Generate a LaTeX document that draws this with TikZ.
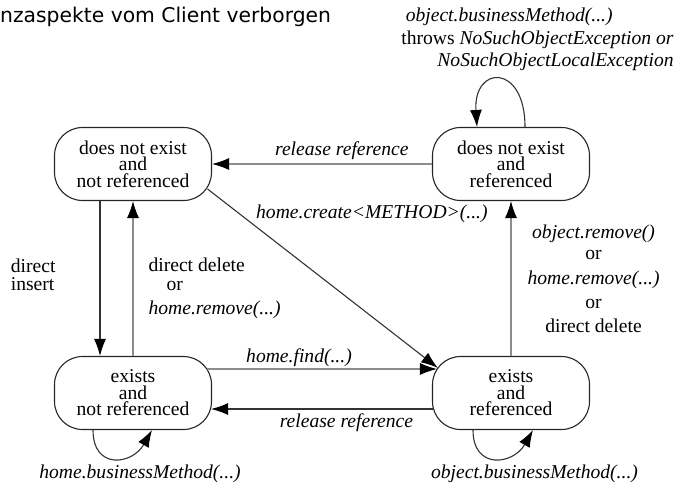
\documentclass[tikz,border=0pt]{standalone}
\usepackage{fontspec}
\setmainfont{Liberation Serif}
\newfontfamily\headfont{DejaVu Sans}
\usetikzlibrary{arrows.meta}
\tikzset{
  state/.style={draw=black!85, line width=1.1pt, rounded corners=28pt, minimum width=157pt,
    minimum height=73pt, inner sep=0pt, align=center, font=\fontsize{19.6}{16.5}\selectfont},
  trans/.style={-{Latex[length=17pt,width=12pt,color=black]}, line width=1.1pt, draw=black!80},
  transg/.style={trans, draw=black!45},
  lbl/.style={inner sep=2pt, font=\fontsize{19.6}{19}\selectfont},
  ilbl/.style={lbl, font=\fontsize{19.6}{19}\selectfont\itshape},
}

\begin{document}
\begin{tikzpicture}[x=1pt,y=-1pt]
\useasboundingbox (0,0) rectangle (676,488);
\node[anchor=west, inner sep=0pt, font=\headfont\fontsize{20.3}{24}\selectfont] (title) at (0,17) {nzaspekte vom Client verborgen};

\node[state] (dnr) at (133,164) {does not exist\\and\\not referenced};
\node[state] (dr) at (511,164) {does not exist\\and\\referenced};
\node[state] (enr) at (133,393) {exists\\and\\not referenced};
\node[state] (er) at (511,393) {exists\\and\\referenced};

% top row
\draw[transg] (dr.west) -- (dnr.east)
  node[ilbl, pos=0.41, above, yshift=2pt] {release reference};
\draw[trans] ([xshift=-4.5pt,yshift=-25pt]dnr.east) -- ([xshift=6pt,yshift=25pt]er.west)
  node[ilbl, pos=0.2, above right] {home.create<METHOD>(...)};
\draw[trans] ([xshift=14pt]dr.north) .. controls +(0,-64) and +(-4,-62) .. ([xshift=-34pt]dr.north)
  node[lbl, pos=0.5, anchor=south, xshift=38pt, yshift=6pt, align=right, font=\fontsize{19.6}{22.5}\selectfont]
  {\textit{object.businessMethod(...)}\hspace*{61pt}\\throws \textit{NoSuchObjectException or}\\\textit{NoSuchObjectLocalException}};

% left column
\draw[trans] ([xshift=-33pt]dnr.south) -- ([xshift=-33pt]enr.north)
  node[lbl, midway, anchor=east, xshift=-42pt, yshift=3.5pt, align=left, font=\fontsize{19.6}{18}\selectfont] {direct\\insert};
\draw[transg] (enr.north) -- (dnr.south)
  node[lbl, midway, anchor=west, xshift=13pt, yshift=-10pt, align=left]
  {direct delete\\\hspace*{18pt}or\\[5pt]\textit{home.remove(...)}};

% right column
\draw[transg] (er.north) -- (dr.south)
  node[lbl, midway, anchor=west, xshift=14pt, align=center]
  {\textit{object.remove()}\\[2pt]or\\[6pt]\textit{home.remove(...)}\\[5pt]or\\[5pt]direct delete};

% bottom row
\draw[transg] ([xshift=-5pt,yshift=24pt]enr.east) -- ([xshift=5pt,yshift=24pt]er.west)
  node[ilbl, pos=0.4, above] {home.find(...)};
\draw[trans] ([xshift=1pt,yshift=-16pt]er.west) -- ([xshift=-1pt,yshift=-16pt]enr.east)
  node[ilbl, pos=0.39, below, yshift=-2pt] {release reference};
\draw[trans] ([xshift=-40pt]enr.south) .. controls +(0,40) and +(-20,35) .. ([xshift=19pt]enr.south)
  node[ilbl, pos=0.5, anchor=north, xshift=25pt, yshift=-4pt] {home.businessMethod(...)};
\draw[trans] ([xshift=-38pt]er.south) .. controls +(0,40) and +(-20,35) .. ([xshift=22pt]er.south)
  node[ilbl, pos=0.5, anchor=north, xshift=39pt, yshift=-4pt] {object.businessMethod(...)};
\end{tikzpicture}
\end{document}
